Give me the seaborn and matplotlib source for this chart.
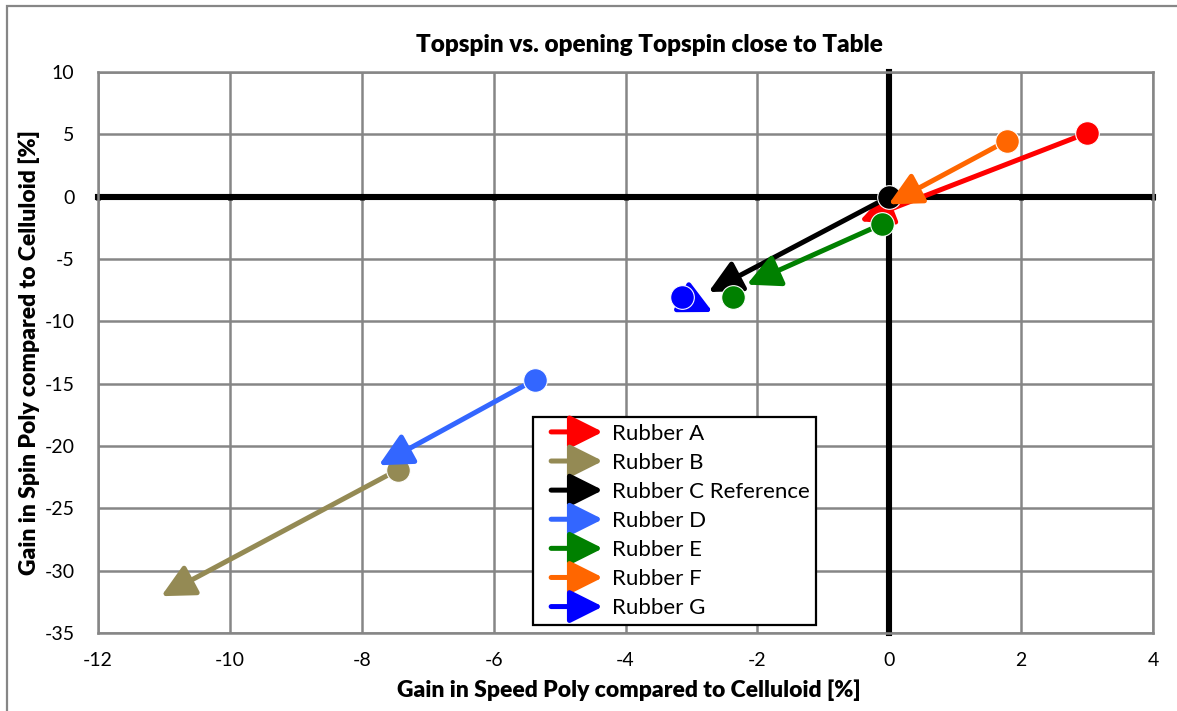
import matplotlib

matplotlib.use("Agg")
import matplotlib.pyplot as plt
import pandas as pd
import seaborn as sns
from matplotlib.legend_handler import HandlerBase
from matplotlib.lines import Line2D
from matplotlib.patches import FancyArrowPatch, Rectangle

# Values
rubbers = [
    "Rubber A",
    "Rubber B",
    "Rubber C Reference",
    "Rubber D",
    "Rubber E",
    "Rubber F",
    "Rubber G",
]
colors = ["#FF0000", "#948A54", "#000000", "#3366FF", "#008000", "#FF6600", "#0000FF"]
speed_start = [3.0, -7.45, 0.0, -5.38, -0.11, 1.79, -3.14]
spin_start = [5.1, -21.9, 0.0, -14.7, -2.2, 4.5, -8.05]
speed_end = [-0.47, -11.06, -2.76, -7.76, -2.18, -0.03, -2.66]
spin_end = [-2.0, -32.1, -7.7, -21.6, -7.1, -0.67, -9.3]
# one extra measured point for Rubber E
extra_rubber = ["Rubber E"]
extra_speed = [-2.37]
extra_spin = [-8.05]

xticks = [-12, -10, -8, -6, -4, -2, 0, 2, 4]
yticks = [10, 5, 0, -5, -10, -15, -20, -25, -30, -35]

FONT = ["Lato", "DejaVu Sans"]
GRID = "#868686"
ARROW = "-|>,head_length=2.0,head_width=1.0"


class ArrowHandler(HandlerBase):
    def create_artists(self, legend, orig_handle, xdescent, ydescent,
                       width, height, fontsize, trans):
        y = height / 2 - ydescent
        x0 = -xdescent + 0.18 * width
        arrow = FancyArrowPatch(
            (x0, y), (-xdescent + width, y), arrowstyle=ARROW,
            mutation_scale=10, color=orig_handle.get_color(), lw=3.6,
            shrinkA=0, shrinkB=1.5, transform=trans,
        )
        return [arrow]


def main():
    sns.set_theme(style="white")
    plt.rcParams["font.family"] = FONT
    plt.rcParams["axes.unicode_minus"] = False

    points = pd.DataFrame({
        "rubber": rubbers + extra_rubber,
        "speed": speed_start + extra_speed,
        "spin": spin_start + extra_spin,
    })
    palette = dict(zip(rubbers, colors))

    fig = plt.figure(figsize=(11.77, 7.11), dpi=100)
    ax = fig.add_axes([98 / 1177, 1 - 633 / 711, 1055 / 1177, 561 / 711])
    ax.set_xlim(-12, 4)
    ax.set_ylim(-35, 10)

    # one series after another so later arrows overlap earlier markers
    for i, name in enumerate(rubbers):
        ax.annotate(
            "", xy=(speed_end[i], spin_end[i]),
            xytext=(speed_start[i], spin_start[i]),
            arrowprops=dict(
                arrowstyle=ARROW, mutation_scale=10, color=colors[i],
                lw=3.6, shrinkA=0, shrinkB=1.0,
            ),
            zorder=3 + 2 * i,
        )
        sns.scatterplot(
            data=points[points.rubber == name], x="speed", y="spin",
            color=palette[name], s=290, edgecolor="white", linewidth=0.8,
            zorder=4 + 2 * i, ax=ax, legend=False,
        )

    ax.set_xticks(xticks)
    ax.set_yticks(yticks)
    ax.grid(True, color=GRID, lw=1.8)
    for spine in ax.spines.values():
        spine.set_color(GRID)
        spine.set_linewidth(1.8)
    ax.tick_params(axis="both", length=0, labelsize=14, colors="black")
    ax.tick_params(axis="x", pad=14)
    ax.tick_params(axis="y", pad=17)

    # black zero axes crossing in the middle of the plot
    secx = ax.secondary_xaxis(35 / 45)
    secx.set_alignment("bottom")
    secx.set_xticks(xticks, labels=[])
    secx.spines["bottom"].set_linewidth(4.4)
    secx.spines["bottom"].set_color("black")
    secx.tick_params(direction="out", length=2.5, width=3.6, color="black")
    secx.set_zorder(1)

    secy = ax.secondary_yaxis(12 / 16)
    secy.set_alignment("left")
    secy.set_yticks(yticks, labels=[])
    secy.spines["left"].set_linewidth(4.4)
    secy.spines["left"].set_color("black")
    secy.tick_params(direction="out", length=2.5, width=3.6, color="black")
    secy.set_zorder(1)

    ax.set_xlabel("Gain in Speed Poly compared to Celluloid [%]",
                  fontsize=16.5, fontweight="heavy", color="black")
    ax.set_ylabel("Gain in Spin Poly compared to Celluloid [%]",
                  fontsize=16.5, fontweight="heavy", color="black")
    ax.xaxis.set_label_coords(0.503, -0.082)
    ax.yaxis.set_label_coords(-0.055, 0.5)
    fig.text(649 / 1177, 1 - 45 / 711, "Topspin vs. opening Topspin close to Table",
             ha="center", va="center", fontsize=17.5, fontweight="heavy",
             color="black")

    handles = [Line2D([], [], color=c, label=n) for n, c in zip(rubbers, colors)]
    leg = ax.legend(
        handles=handles, handler_map={Line2D: ArrowHandler()},
        loc="upper left", bbox_to_anchor=(0.412, 0.385), fontsize=16,
        frameon=True, fancybox=False, edgecolor="black", framealpha=1,
        handlelength=2.95, handletextpad=0.3, labelspacing=0.41,
        borderpad=0.3, borderaxespad=0, labelcolor="black",
    )
    leg.get_frame().set_linewidth(1.6)
    leg.set_zorder(30)

    # chart area border (left and top edges visible in the crop)
    fig.patches.append(Rectangle(
        (7 / 1177, -0.1), 1.2, 1.1 - 6 / 711, transform=fig.transFigure,
        fill=False, edgecolor=GRID, lw=1.6, clip_on=False,
    ))

    plt.savefig("out.png", dpi=100)
    plt.close()


if __name__ == "__main__":
    main()
